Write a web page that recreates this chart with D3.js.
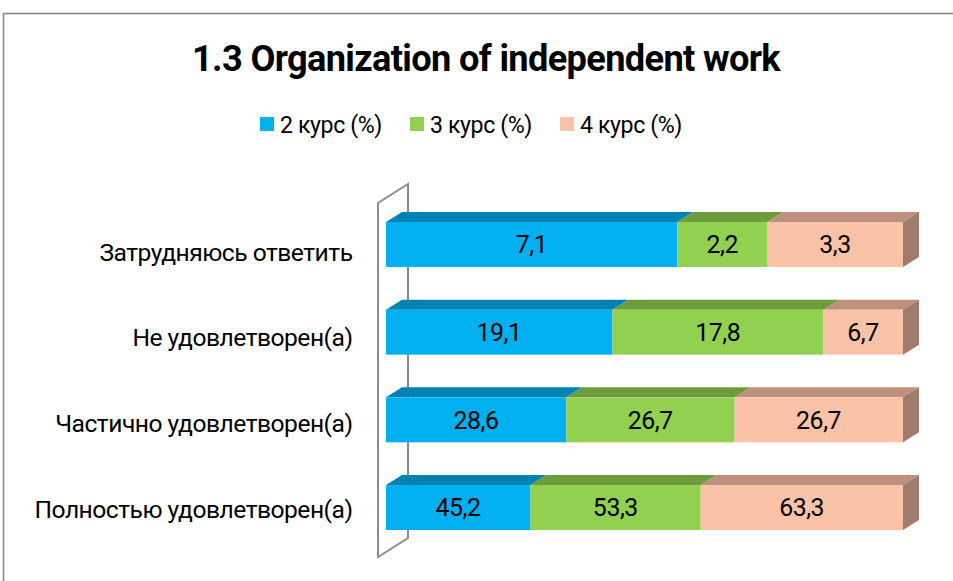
<!DOCTYPE html>
<html><head><meta charset="utf-8">
<script src="https://cdn.jsdelivr.net/npm/d3@7"></script>
<style>html,body{margin:0;padding:0;background:#fff;overflow:hidden}svg{display:block}text{font-family:Roboto,"Noto Sans",sans-serif;fill:#000}</style>
</head><body>
<svg id="c" width="953" height="581"></svg>
<script>
const title = "1.3 Organization of independent work";
const categories = ["Затрудняюсь ответить","Не удовлетворен(а)","Частично удовлетворен(а)","Полностью удовлетворен(а)"];
const seriesNames = ["2 курс (%)","3 курс (%)","4 курс (%)"];
const course2 = [7.1, 19.1, 28.6, 45.2];
const course3 = [2.2, 17.8, 26.7, 53.3];
const course4 = [3.3, 6.7, 26.7, 63.3];

const frontColors = ["#00B0F0","#92D050","#FAC3A8"];
const topColors = ["#0083B3","#6E9B3C","#BE917E"];
const sideColor = "#9F7C6B";

const svg = d3.select("#c");
const rows = categories.map((c,i)=>({cat:c, s0:course2[i], s1:course3[i], s2:course4[i]}));
const keys = ["s0","s1","s2"];
const stacked = d3.stack().keys(keys).offset(d3.stackOffsetExpand)(rows);

const x = d3.scaleLinear().domain([0,1]).range([386,903]);
const y = d3.scaleBand().domain(categories).range([222,530]).paddingInner(0.487).paddingOuter(0);
const yLab = d3.scalePoint().domain(categories).range([252,509]);
const dx = 16, dy = -10;
const capK = 0.355; // half cap-height of Roboto (em)

// outer frame
svg.append("rect").attr("x",3.5).attr("y",13.5).attr("width",1000).attr("height",700)
  .attr("fill","none").attr("stroke","#8a8a8a").attr("stroke-width",1.6);

// fitting helper: slightly larger glyphs, width matched via letter-spacing
function fit(text, target, weight){
  const t = svg.append("text").attr("font-size",100).attr("font-weight",weight||"normal").text(text);
  const w100 = t.node().getComputedTextLength();
  const fs = 100*target/w100*1.04;
  t.attr("font-size",fs);
  const w = t.node().getComputedTextLength(); t.remove();
  return {fs, ls:(target - w)/text.length};
}

// title
const tf = fit(title, 588, "bold");
svg.append("text").attr("x",486).attr("y",58 + capK*tf.fs).attr("text-anchor","middle")
  .attr("font-weight","bold").attr("font-size",tf.fs).attr("letter-spacing",tf.ls).text(title);

// legend
const lf = fit(seriesNames[0], 102);
const leg = svg.append("g");
seriesNames.forEach((n,i)=>{
  const lx = 260 + i*150;
  leg.append("rect").attr("x",lx).attr("y",117).attr("width",14).attr("height",14).attr("fill",frontColors[i]);
  leg.append("text").attr("x",lx+20).attr("y",124.5 + capK*lf.fs).attr("font-size",lf.fs)
    .attr("letter-spacing",lf.ls).text(n);
});

// wall (back plane)
const y0 = y.range()[0], y1 = y.range()[1];
const wx = x(0) - 8, wdx = 30, wdy = -19;
const wTop = y0 - 19, wBot = y1 + 27;
svg.append("path")
  .attr("d", `M${wx},${wBot}L${wx},${wTop}L${wx+wdx},${wTop+wdy}L${wx+wdx},${wBot+wdy}Z`)
  .attr("fill","none").attr("stroke","#8c8c8c").attr("stroke-width",2);

// bars
const fmt = v => d3.format(".1f")(v).replace(".",",");
const bars = svg.append("g");
const h = y.bandwidth();
categories.forEach((c,ri)=>{
  const yy = y(c);
  stacked.forEach((s,si)=>{
    const a = x(s[ri][0]), b = x(s[ri][1]);
    bars.append("path").attr("d",`M${a},${yy}L${a+dx},${yy+dy}L${b+dx},${yy+dy}L${b},${yy}Z`)
      .attr("fill",topColors[si]);
  });
  const last = stacked[stacked.length-1][ri];
  const e = x(last[1]);
  bars.append("path").attr("d",`M${e},${yy}L${e+dx},${yy+dy}L${e+dx},${yy+h+dy}L${e},${yy+h}Z`).attr("fill",sideColor);
  stacked.forEach((s,si)=>{
    const a = x(s[ri][0]), b = x(s[ri][1]);
    bars.append("rect").attr("x",a).attr("y",yy).attr("width",b-a).attr("height",h).attr("fill",frontColors[si]);
  });
});

// value labels
const vf = fit("17,8", 45);
const vals = [course2, course3, course4];
categories.forEach((c,ri)=>{
  stacked.forEach((s,si)=>{
    const a = x(s[ri][0]), b = x(s[ri][1]);
    svg.append("text").attr("x",(a+b)/2 + vf.ls/2).attr("y",y(c)+h/2 + capK*vf.fs)
      .attr("text-anchor","middle").attr("font-size",vf.fs).attr("letter-spacing",vf.ls)
      .text(fmt(vals[si][ri]));
  });
});

// category labels
const cf = fit(categories[3], 318);
categories.forEach(c=>{
  svg.append("text").attr("x",353 + cf.ls).attr("y",yLab(c) + capK*cf.fs).attr("text-anchor","end")
    .attr("font-size",cf.fs).attr("letter-spacing",cf.ls).text(c);
});
</script>
</body></html>
